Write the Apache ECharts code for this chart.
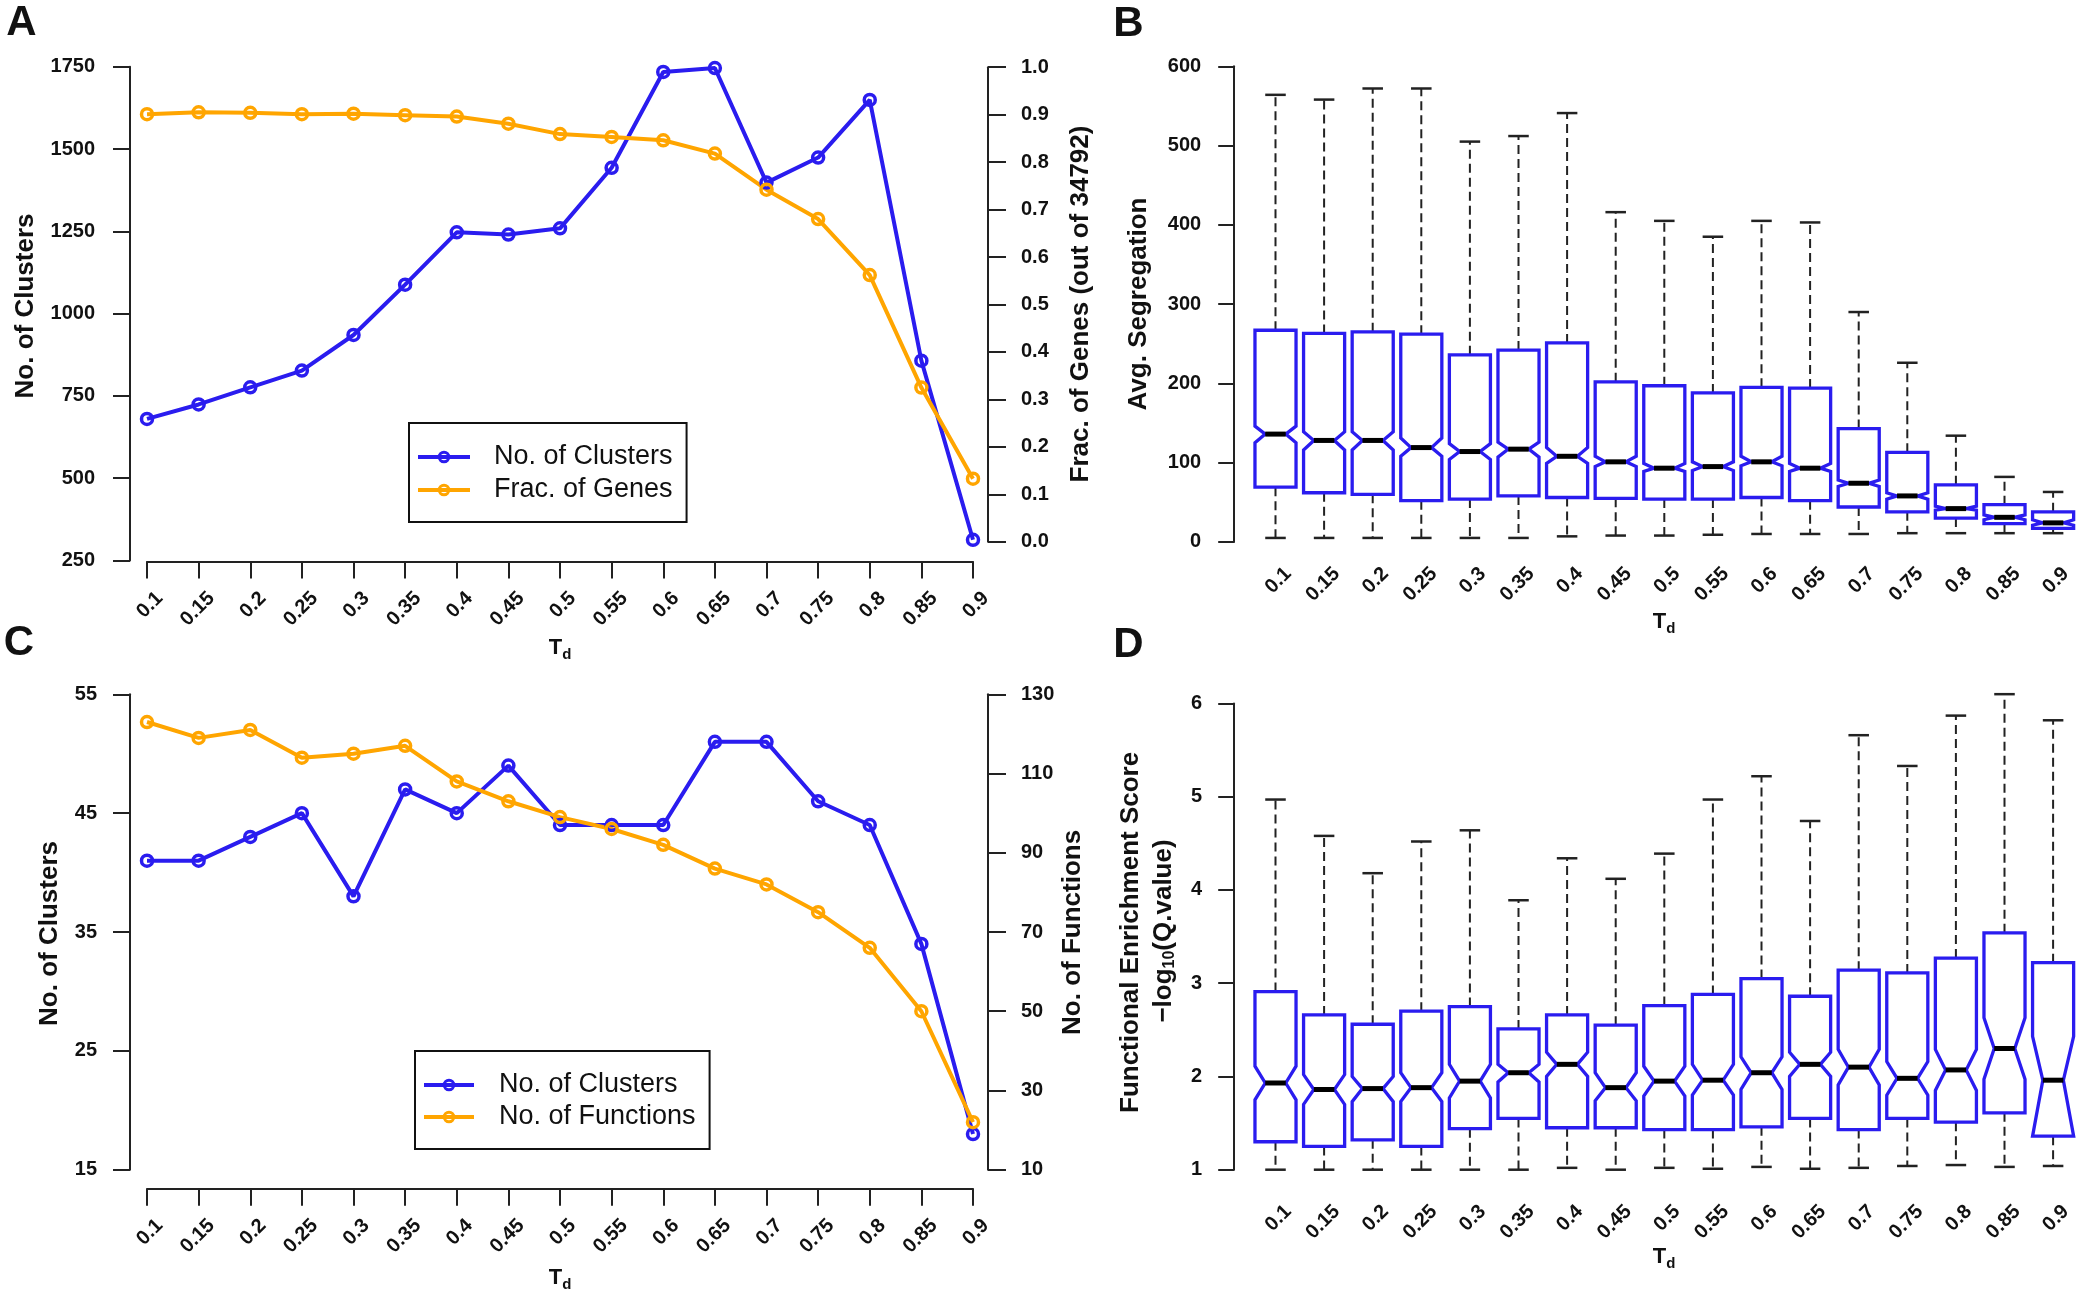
<!DOCTYPE html>
<html>
<head>
<meta charset="utf-8">
<script src="https://cdn.jsdelivr.net/npm/echarts@6/dist/echarts.min.js"></script>
<style>
html,body{margin:0;padding:0;background:#fff;}
#chart{width:2082px;height:1295px;}
</style>
</head>
<body>
<div id="chart"></div>
<script>
// ---------- data ----------
const tdLabels = ['0.1','0.15','0.2','0.25','0.3','0.35','0.4','0.45','0.5','0.55','0.6','0.65','0.7','0.75','0.8','0.85','0.9'];

// Panel A
const clustersA = [680,724,776,827,935,1088,1247,1240,1259,1443,1734,1746,1398,1474,1649,857,313];
const fracGenesA = [0.901,0.905,0.904,0.901,0.902,0.899,0.896,0.881,0.859,0.853,0.846,0.818,0.742,0.680,0.562,0.325,0.133];

// Panel B (Avg. Segregation boxplots)
const bMin   = [5,5,5,5,5,5,7,8,8,9,10,10,10,11,11,11,11];
const bQ1    = [69,62,60,52,54,58,56,55,54,54,56,52,44,38,30,23,17];
const bNotchLo = [125,116,116,108,104,107,99,95,89,90,96,89,70,54,40,28,21];
const bMed   = [136,128,128,119,114,117,108,101,93,95,101,93,74,58,42,31,24];
const bNotchHi = [146,139,139,131,124,126,119,108,99,101,108,99,78,62,45,34,28];
const bQ3    = [267,263,265,262,236,242,251,202,197,188,195,194,143,113,72,47,38];
const bMax   = [564,558,572,572,505,512,541,416,405,385,405,403,290,226,134,82,63];

// Panel C
const clustersC = [41,41,43,45,38,47,45,49,44,44,44,51,51,46,44,34,18];
const functionsC = [123,119,121,114,115,117,108,103,99,96,92,86,82,75,66,50,22];
const cLeftTicks = [15,25,35,45,55];
const cRightTicks = [10,30,50,70,90,110,130];

// Panel D (Functional Enrichment Score boxplots)
const dMin   = [1.0,1.0,1.0,1.0,1.0,1.0,1.02,1.0,1.02,1.01,1.03,1.01,1.02,1.04,1.05,1.03,1.04];
const dQ1    = [1.30,1.25,1.32,1.25,1.44,1.55,1.45,1.45,1.43,1.43,1.46,1.55,1.43,1.55,1.51,1.61,1.36];
const dNotchLo = [1.75,1.70,1.73,1.73,1.77,1.94,2.00,1.74,1.79,1.80,1.86,2.00,1.91,1.80,1.85,1.97,1.36];
const dMed   = [1.93,1.86,1.87,1.88,1.95,2.04,2.13,1.88,1.95,1.96,2.04,2.13,2.10,1.98,2.07,2.30,1.96];
const dNotchHi = [2.11,2.02,2.00,2.04,2.13,2.13,2.26,2.04,2.11,2.13,2.21,2.26,2.29,2.16,2.29,2.63,2.43];
const dQ3    = [2.91,2.66,2.56,2.70,2.75,2.51,2.66,2.55,2.76,2.88,3.05,2.86,3.14,3.11,3.27,3.54,3.22];
const dMax   = [4.97,4.58,4.18,4.52,4.64,3.89,4.34,4.12,4.39,4.97,5.22,4.74,5.66,5.33,5.87,6.10,5.82];

// ---------- style ----------
const BLUE = '#2a1cef';
const ORANGE = '#ffa500';
const INK = '#111';
const FF = '"Liberation Sans", Arial, Helvetica, sans-serif';

const boxDataB = tdLabels.map((t,i)=>[i,bMin[i],bQ1[i],bNotchLo[i],bMed[i],bNotchHi[i],bQ3[i],bMax[i]]);
const boxDataD = tdLabels.map((t,i)=>[i,dMin[i],dQ1[i],dNotchLo[i],dMed[i],dNotchHi[i],dQ3[i],dMax[i]]);

function boxRender(params, api) {
  const i = api.value(0);
  const band = api.size([1, 0])[0];
  const w = band * 0.845;
  const cx = api.coord([i, api.value(4)])[0];
  const yv = k => api.coord([i, api.value(k)])[1];
  const yMin = yv(1), yQ1 = yv(2), yNlo = yv(3), yMed = yv(4), yNhi = yv(5), yQ3 = yv(6), yMax = yv(7);
  const xl = cx - w/2, xr = cx + w/2, xlm = cx - w/4, xrm = cx + w/4;
  const dash = {stroke:'#222', lineWidth:2, lineDash:[9,5], fill:null};
  const cap = {stroke:'#222', lineWidth:2.5, fill:null};
  return {type:'group', children:[
    {type:'line', shape:{x1:cx,y1:yQ3,x2:cx,y2:yMax}, style:dash},
    {type:'line', shape:{x1:cx,y1:yQ1,x2:cx,y2:yMin}, style:dash},
    {type:'line', shape:{x1:xlm,y1:yMax,x2:xrm,y2:yMax}, style:cap},
    {type:'line', shape:{x1:xlm,y1:yMin,x2:xrm,y2:yMin}, style:cap},
    {type:'polygon', shape:{points:[[xl,yQ1],[xl,yNlo],[xlm,yMed],[xl,yNhi],[xl,yQ3],[xr,yQ3],[xr,yNhi],[xrm,yMed],[xr,yNlo],[xr,yQ1]]},
      style:{fill:'rgba(255,255,255,0)', stroke:BLUE, lineWidth:3.3, lineJoin:'miter'}},
    {type:'line', shape:{x1:xlm,y1:yMed,x2:xrm,y2:yMed}, style:{stroke:'#000', lineWidth:5}}
  ]};
}

const axLine = {show:true, onZero:false, lineStyle:{color:'#222', width:2}};
const plain = v => String(v);
const yLabel = (margin, extra) => Object.assign({color:INK, fontWeight:'bold', fontSize:20, fontFamily:FF, margin:margin, formatter:plain}, extra||{});
const xLabel = (margin) => ({color:INK, fontWeight:'bold', fontSize:20, fontFamily:FF, rotate:45, interval:0,
  align:'right', verticalAlign:'top', lineHeight:36, margin:margin});

function lineSeries(name, data, color, xi, yi) {
  return {type:'line', name:name, data:data, xAxisIndex:xi, yAxisIndex:yi,
    symbol:'circle', symbolSize:11, showSymbol:true,
    lineStyle:{color:color, width:4},
    itemStyle:{color:'rgba(255,255,255,0)', borderColor:color, borderWidth:3.5},
    emphasis:{disabled:true}, z:3};
}

const legendBase = {orient:'vertical', itemHeight:12, selectedMode:false, borderColor:'#111', borderWidth:2,
  backgroundColor:'#fff', lineStyle:{width:4}, itemStyle:{borderWidth:3}};

function title(text, x, y, size, rot) {
  return {type:'text', x:x, y:y, rotation:rot||0, z:100,
    style:{text:text, fill:INK, font:'bold '+size+'px '+FF, align:'center', verticalAlign:'middle'}};
}
function tdTitle(x, y) {
  return {type:'text', x:x, y:y, z:100,
    style:{text:'{t|T}{d|d}', align:'center', verticalAlign:'middle',
      rich:{t:{fontSize:22, fontWeight:'bold', fontFamily:FF, fill:INK, color:INK},
            d:{fontSize:15, fontWeight:'bold', fontFamily:FF, fill:INK, color:INK, padding:[14,0,0,0]}}}};
}

const option = {
  animation:false,
  backgroundColor:'#fff',
  grid:[
    {left:147, top:66.7, width:826, height:493.8},
    {left:147, top:67.2, width:826, height:474.6},
    {left:1251.2, top:66.3, width:826.2, height:475.6},
    {left:147, top:694.3, width:826, height:475.4},
    {left:1251.2, top:703.5, width:826.2, height:466.2}
  ],
  xAxis:[
    {gridIndex:0, type:'category', data:tdLabels, boundaryGap:false, offset:1,
      axisLine:axLine, axisTick:{show:true, length:17, lineStyle:{color:'#222', width:2}}, axisLabel:xLabel(21), splitLine:{show:false}},
    {gridIndex:1, type:'category', data:tdLabels, boundaryGap:false, show:false},
    {gridIndex:2, type:'category', data:tdLabels, boundaryGap:true,
      axisLine:{show:false}, axisTick:{show:false}, axisLabel:xLabel(16), splitLine:{show:false}},
    {gridIndex:3, type:'category', data:tdLabels, boundaryGap:false, offset:19,
      axisLine:axLine, axisTick:{show:true, length:17, lineStyle:{color:'#222', width:2}}, axisLabel:xLabel(21), splitLine:{show:false}},
    {gridIndex:4, type:'category', data:tdLabels, boundaryGap:true,
      axisLine:{show:false}, axisTick:{show:false}, axisLabel:xLabel(26), splitLine:{show:false}}
  ],
  yAxis:[
    {gridIndex:0, type:'value', position:'left', min:250, max:1750, interval:250, offset:17,
      axisLine:axLine, axisTick:{show:true, length:17, lineStyle:{color:'#222', width:2}}, axisLabel:yLabel(35), splitLine:{show:false}},
    {gridIndex:1, type:'value', position:'right', min:0, max:1, interval:0.1, offset:15,
      axisLine:axLine, axisTick:{show:true, length:18, lineStyle:{color:'#222', width:2}},
      axisLabel:yLabel(33, {formatter:v=>v.toFixed(1)}), splitLine:{show:false}},
    {gridIndex:2, type:'value', position:'left', min:0, max:600, interval:100, offset:17,
      axisLine:axLine, axisTick:{show:true, length:16, lineStyle:{color:'#222', width:2}}, axisLabel:yLabel(33), splitLine:{show:false}},
    {gridIndex:3, type:'value', position:'left', min:15, max:55, offset:17,
      axisLine:axLine, axisTick:{show:true, length:17, customValues:cLeftTicks, lineStyle:{color:'#222', width:2}},
      axisLabel:yLabel(33, {customValues:cLeftTicks}), splitLine:{show:false}},
    {gridIndex:3, type:'value', position:'right', min:10, max:130, offset:15,
      axisLine:axLine, axisTick:{show:true, length:18, customValues:cRightTicks, lineStyle:{color:'#222', width:2}},
      axisLabel:yLabel(33, {customValues:cRightTicks}), splitLine:{show:false}},
    {gridIndex:4, type:'value', position:'left', min:1, max:6, interval:1, offset:17,
      axisLine:axLine, axisTick:{show:true, length:16, lineStyle:{color:'#222', width:2}}, axisLabel:yLabel(32), splitLine:{show:false}}
  ],
  legend:[
    Object.assign({}, legendBase, {left:409, top:423, data:['No. of Clusters','Frac. of Genes'],
      itemWidth:52, itemGap:3, padding:[19,14,17,7],
      textStyle:{fontSize:27, lineHeight:30, color:INK, fontFamily:FF, padding:[0,0,0,19]}}),
    Object.assign({}, legendBase, {left:415, top:1051, data:['No. of Clusters','No. of Functions'],
      itemWidth:50, itemGap:2, padding:[19,14,17,7],
      textStyle:{fontSize:27, lineHeight:30, color:INK, fontFamily:FF, padding:[0,0,0,20]}})
  ],
  series:[
    lineSeries('No. of Clusters', clustersA, BLUE, 0, 0),
    lineSeries('Frac. of Genes', fracGenesA, ORANGE, 1, 1),
    {type:'custom', name:'Avg. Segregation', xAxisIndex:2, yAxisIndex:2, data:boxDataB,
      encode:{x:0, y:[1,2,3,4,5,6,7]}, renderItem:boxRender, clip:false},
    lineSeries('No. of Clusters', clustersC, BLUE, 3, 3),
    lineSeries('No. of Functions', functionsC, ORANGE, 3, 4),
    {type:'custom', name:'Functional Enrichment Score', xAxisIndex:4, yAxisIndex:5, data:boxDataD,
      encode:{x:0, y:[1,2,3,4,5,6,7]}, renderItem:boxRender, clip:false}
  ],
  graphic:[
    title('A', 21.5, 23, 42),
    title('B', 1128.5, 24, 42),
    title('C', 19, 643, 42),
    title('D', 1128.5, 645, 42),
    title('No. of Clusters', 26, 306, 26, Math.PI/2),
    title('Frac. of Genes (out of 34792)', 1081, 304, 26, Math.PI/2),
    title('Avg. Segregation', 1139, 304, 26, Math.PI/2),
    title('No. of Clusters', 49.5, 933.5, 26, Math.PI/2),
    title('No. of Functions', 1073, 932.4, 26, Math.PI/2),
    title('Functional Enrichment Score', 1130.4, 932.4, 26, Math.PI/2),
    {type:'text', x:1164, y:931, rotation:Math.PI/2, z:100,
      style:{text:'{b|\u2212log}{s|10}{b|(Q.value)}', align:'center', verticalAlign:'middle',
        rich:{b:{fontSize:26, fontWeight:'bold', fontFamily:FF, fill:INK, color:INK},
              s:{fontSize:16, fontWeight:'bold', fontFamily:FF, fill:INK, color:INK, padding:[12,0,0,0]}}}},
    tdTitle(560, 648),
    tdTitle(1664, 622),
    tdTitle(560, 1278),
    tdTitle(1664, 1257)
  ]
};

const chart = echarts.init(document.getElementById('chart'), null, {renderer:'canvas'});
chart.setOption(option);
</script>
</body>
</html>
